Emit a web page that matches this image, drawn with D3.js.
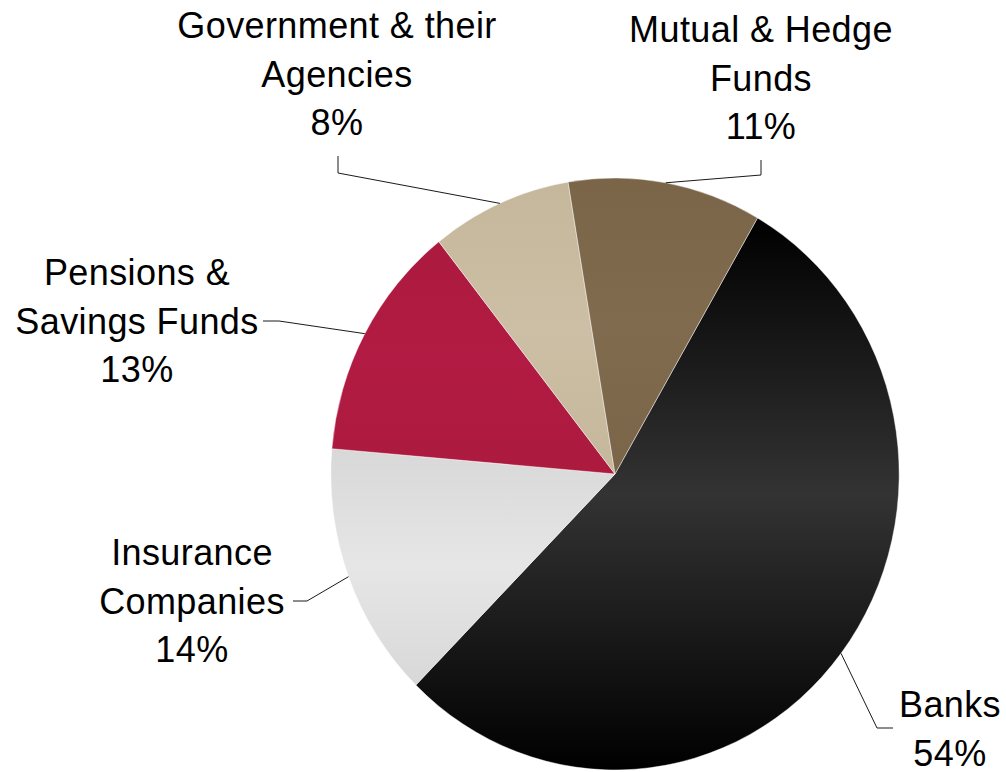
<!DOCTYPE html>
<html>
<head>
<meta charset="utf-8">
<script src="https://cdn.jsdelivr.net/npm/d3@7"></script>
<style>
  html, body { margin: 0; padding: 0; background: #fff; }
  svg { display: block; }
  text { font-family: "Liberation Sans", Arial, sans-serif; font-size: 36px; letter-spacing: 0.4px; fill: #000; }
</style>
</head>
<body>
<svg id="chart" width="1006" height="772"></svg>
<script>
// Holders of the debt, share of total (%)
const categories = ["Banks", "Insurance Companies", "Pensions & Savings Funds", "Government & their Agencies", "Mutual & Hedge Funds"];
const shares = [54, 14, 13, 8, 11];
const labelLines = [
  ["Banks"],
  ["Insurance", "Companies"],
  ["Pensions &", "Savings Funds"],
  ["Government & their", "Agencies"],
  ["Mutual & Hedge", "Funds"]
];
// gradient stops per slice: edge, middle, edge
const sliceColors = [
  ["#000000", "#333333", "#000000"],
  ["#d8d8d8", "#e6e6e6", "#d8d8d8"],
  ["#ac1a3e", "#b21b43", "#ac1a3e"],
  ["#c5b79b", "#ccbfa5", "#c5b79b"],
  ["#7b6549", "#816b4f", "#7b6549"]
];

// layout
const cx = 615, cy = 474, radius = 296, xStretch = 0.96;
const startDeg = 30.1;
const lineHeight = 48.5;
// label anchor (centre x, first baseline) and leader path from label side
const labelLayout = [
  { x: 950, y: 717, leader: [[893, 728], [877, 728]] },
  { x: 192, y: 565, leader: [[293, 601], [307, 601]] },
  { x: 137, y: 285, leader: [[263, 321], [279, 321]] },
  { x: 337, y: 38,  leader: [[338, 156], [338, 173]] },
  { x: 761, y: 42,  leader: [[761, 160], [761, 175]] }
];

const svg = d3.select("#chart");
const defs = svg.append("defs");

sliceColors.forEach((c, i) => {
  const g = defs.append("linearGradient")
    .attr("id", "grad" + i)
    .attr("x1", 0).attr("y1", 0).attr("x2", 0).attr("y2", 1);
  g.append("stop").attr("offset", "0%").attr("stop-color", c[0]);
  g.append("stop").attr("offset", "50%").attr("stop-color", c[1]);
  g.append("stop").attr("offset", "100%").attr("stop-color", c[2]);
});

const data = categories.map((name, i) => ({ name, value: shares[i], i }));
const start = startDeg * Math.PI / 180;
const pie = d3.pie().sort(null).value(d => d.value)
  .startAngle(start).endAngle(start + 2 * Math.PI);
const arcs = pie(data);
const arc = d3.arc().innerRadius(0).outerRadius(radius);

const pieG = svg.append("g")
  .attr("transform", `translate(${cx},${cy}) scale(${xStretch},1)`);

pieG.selectAll("path.slice")
  .data(arcs)
  .join("path")
  .attr("class", "slice")
  .attr("d", arc)
  .attr("fill", d => `url(#grad${d.data.i})`)
  .attr("stroke", "#ffffff")
  .attr("stroke-opacity", 0.55)
  .attr("stroke-width", 0.8)
  .attr("vector-effect", "non-scaling-stroke");

// leader lines: from label side to the slice edge at mid-angle
const edgePoint = a => {
  const m = (a.startAngle + a.endAngle) / 2;
  return [cx + xStretch * radius * Math.sin(m), cy - radius * Math.cos(m)];
};

svg.append("g").selectAll("path.leader")
  .data(arcs)
  .join("path")
  .attr("class", "leader")
  .attr("d", d => d3.line()(labelLayout[d.data.i].leader.concat([edgePoint(d)])))
  .attr("fill", "none")
  .attr("stroke", "#1a1a1a")
  .attr("stroke-width", 1);

// labels: category name lines plus percentage
const labels = svg.append("g").selectAll("text.label")
  .data(arcs)
  .join("text")
  .attr("class", "label")
  .attr("text-anchor", "middle");

labels.each(function(d) {
  const lay = labelLayout[d.data.i];
  const lines = labelLines[d.data.i].concat([d3.format("d")(d.data.value) + "%"]);
  d3.select(this).selectAll("tspan")
    .data(lines)
    .join("tspan")
    .attr("x", lay.x)
    .attr("y", (t, k) => lay.y + k * lineHeight)
    .text(t => t);
});
</script>
</body>
</html>
